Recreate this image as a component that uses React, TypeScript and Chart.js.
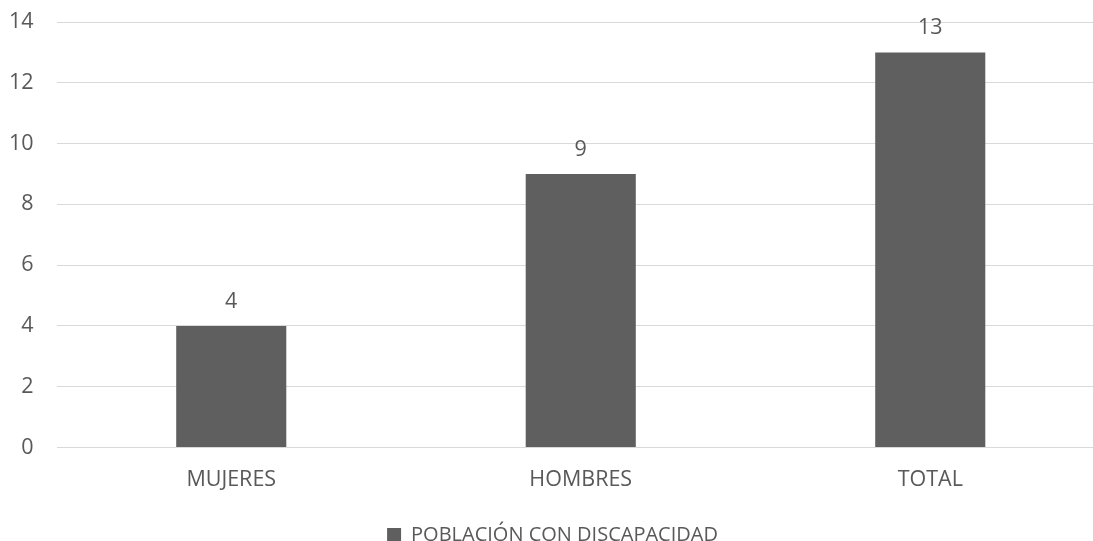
import React, { useEffect, useRef } from "react";
import { Chart, registerables } from "chart.js";

Chart.register(...registerables);

const categories = ["MUJERES", "HOMBRES", "TOTAL"];
const seriesLabel = "POBLACIÓN CON DISCAPACIDAD";
const seriesValues = [4, 9, 13];
const yTicks = [0, 2, 4, 6, 8, 10, 12, 14];

const FONT = "'Open Sans', sans-serif";
const TEXT = "#595959";

const valueLabels = {
  id: "valueLabels",
  afterDatasetsDraw(chart: any) {
    const ctx = chart.ctx;
    const meta = chart.getDatasetMeta(0);
    ctx.save();
    ctx.font = `21.5px ${FONT}`;
    ctx.fillStyle = TEXT;
    ctx.textAlign = "center";
    ctx.textBaseline = "alphabetic";
    meta.data.forEach((bar: any, i: number) => {
      ctx.fillText(String(chart.data.datasets[0].data[i]), bar.x, bar.y - 18);
    });
    ctx.restore();
  },
};

export default function App() {
  const ref = useRef<HTMLCanvasElement>(null);
  useEffect(() => {
    if (!ref.current) return;
    const chart = new Chart(ref.current, {
      type: "bar",
      data: {
        labels: categories,
        datasets: [
          {
            label: seriesLabel,
            data: seriesValues,
            backgroundColor: "#5f5f5f",
            borderWidth: 0,
            categoryPercentage: 1,
            barPercentage: 0.315,
          },
        ],
      },
      options: {
        animation: false,
        responsive: true,
        maintainAspectRatio: false,
        layout: { padding: { top: 22, right: 7, left: 0, bottom: 0 } },
        plugins: {
          tooltip: { enabled: false },
          legend: {
            position: "bottom",
            labels: {
              color: TEXT,
              font: { family: FONT, size: 20 },
              boxWidth: 14,
              boxHeight: 14,
              padding: 20.7,
            },
          },
        },
        scales: {
          x: {
            grid: { display: false },
            border: { display: false },
            ticks: {
              color: TEXT,
              font: { family: FONT, size: 21.5 },
              padding: 11.5,
              maxRotation: 0,
            },
          },
          y: {
            min: 0,
            max: 14,
            afterBuildTicks(axis: any) {
              axis.ticks = yTicks.map((v) => ({ value: v }));
            },
            afterFit(axis: any) {
              axis.width = 56.5;
              axis.paddingTop = 0;
            },
            grid: { color: "#d9d9d9", lineWidth: 1, drawTicks: false },
            border: { display: false },
            ticks: {
              color: TEXT,
              font: { family: FONT, size: 21.5 },
              padding: 23,
            },
          },
        },
      },
      plugins: [valueLabels],
    });
    return () => chart.destroy();
  }, []);

  return (
    <div style={{ position: "fixed", left: 0, top: 0, width: 1093, height: 541, overflow: "hidden", background: "#fff" }}>
      <div style={{ position: "absolute", left: 0, top: 0, width: 1112, height: 555 }}>
        <canvas ref={ref} />
      </div>
    </div>
  );
}
